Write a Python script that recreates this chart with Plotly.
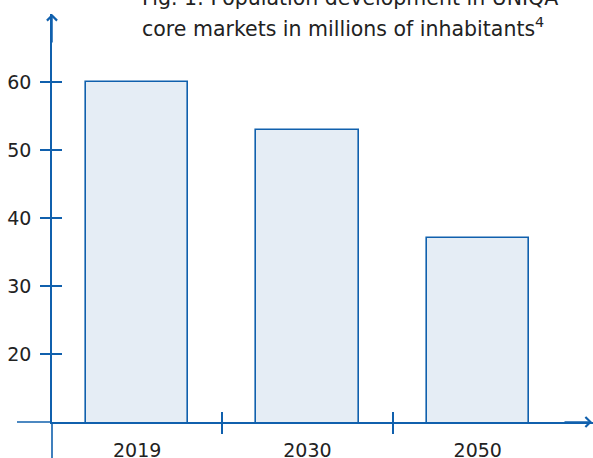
import plotly.graph_objects as go

# ---- data ----
years = ["2019", "2030", "2050"]
population = [60, 53, 37]
y_ticks = [20, 30, 40, 50, 60]
title_line1 = "Fig. 1: Population development in UNIQA"
title_line2 = "core markets in millions of inhabitants<sup>4</sup>"

# ---- style ----
BLUE = "#1060ad"
FILL = "#e5edf5"
TEXT = "#222222"
FONT = "DejaVu Sans"
FS = 19
TFS = 20.5

W, H = 593, 458
L, R, T, B = 52, 0, 14, 36
pw = W - L - R
ph = H - T - B
px_per_cat = 170.3

x_pos = list(range(len(years)))
boundaries = [i + 0.5 for i in x_pos[:-1]]
x_range = [-0.5, -0.5 + pw / px_per_cat]
y_range = [10, 70]

fig = go.Figure()
fig.add_trace(go.Bar(
    x=x_pos, y=population, width=0.6,
    marker=dict(color=FILL, line=dict(color=BLUE, width=1.6)),
    hoverinfo="skip", showlegend=False,
))
# empty trace to make the overlay axes (crossing tick halves) exist
fig.add_trace(go.Scatter(x=[], y=[], xaxis="x2", yaxis="y2", showlegend=False))

axis_common = dict(showgrid=False, zeroline=False, fixedrange=True, automargin=False)

fig.update_layout(
    width=W, height=H,
    margin=dict(l=L, r=R, t=T, b=B, pad=0, autoexpand=False),
    paper_bgcolor="white", plot_bgcolor="white",
    font=dict(family=FONT, size=FS, color=TEXT),
    xaxis=dict(
        range=x_range, tickmode="array", tickvals=x_pos, ticktext=years,
        ticks="", showline=True, linecolor=BLUE, linewidth=1.6,
        tickfont=dict(size=FS, color=TEXT), ticklabelstandoff=10,
        minor=dict(tickmode="array", tickvals=boundaries, ticks="outside",
                   ticklen=10, tickwidth=1.5, tickcolor=BLUE),
        **axis_common,
    ),
    xaxis2=dict(
        range=x_range, overlaying="x", anchor="y2", side="bottom",
        tickmode="array", tickvals=boundaries, ticks="inside", ticklen=10,
        tickwidth=1.5, tickcolor=BLUE, showticklabels=False, showline=False,
        **axis_common,
    ),
    yaxis=dict(
        range=y_range, tickmode="array", tickvals=y_ticks,
        ticks="outside", ticklen=10, tickwidth=1.5, tickcolor=BLUE,
        showline=True, linecolor=BLUE, linewidth=1.6,
        tickfont=dict(size=FS, color=TEXT), ticklabelstandoff=5,
        **axis_common,
    ),
    yaxis2=dict(
        range=y_range, overlaying="y", anchor="x2", side="left",
        tickmode="array", tickvals=y_ticks, ticks="inside", ticklen=10,
        tickwidth=1.5, tickcolor=BLUE, showticklabels=False, showline=False,
        **axis_common,
    ),
    bargap=0,
)

# axis line extensions beyond the plot area
fig.add_shape(type="line", xref="paper", yref="paper",
              x0=0, x1=0, y0=0, y1=-B / ph, line=dict(color=BLUE, width=1.6))
fig.add_shape(type="line", xref="paper", yref="paper",
              x0=-(L - 17) / pw, x1=0, y0=0, y1=0, line=dict(color=BLUE, width=1.6))

# arrow heads
fig.add_annotation(x=0, y=1, xref="paper", yref="paper", ax=0, ay=30, text="",
                   showarrow=True, arrowhead=4, arrowsize=1.3, arrowwidth=1.5,
                   arrowcolor=BLUE, standoff=0)
fig.add_annotation(x=1, y=0, xref="paper", yref="paper", ax=-30, ay=0, text="",
                   showarrow=True, arrowhead=4, arrowsize=1.3, arrowwidth=1.5,
                   arrowcolor=BLUE, standoff=0)

# title lines
fig.add_annotation(x=(141 - L) / pw, y=(H - B + 2) / ph, xref="paper", yref="paper",
                   xanchor="left", yanchor="middle", text=title_line1,
                   showarrow=False, font=dict(size=TFS, color=TEXT), borderpad=0)
fig.add_annotation(x=(141 - L) / pw, y=(H - B - 28) / ph, xref="paper", yref="paper",
                   xanchor="left", yanchor="middle", text=title_line2,
                   showarrow=False, font=dict(size=TFS, color=TEXT), borderpad=0)

fig.write_html("out.html", config={"displayModeBar": False},
               post_script="document.body.style.margin='0';document.body.style.overflow='hidden';")
